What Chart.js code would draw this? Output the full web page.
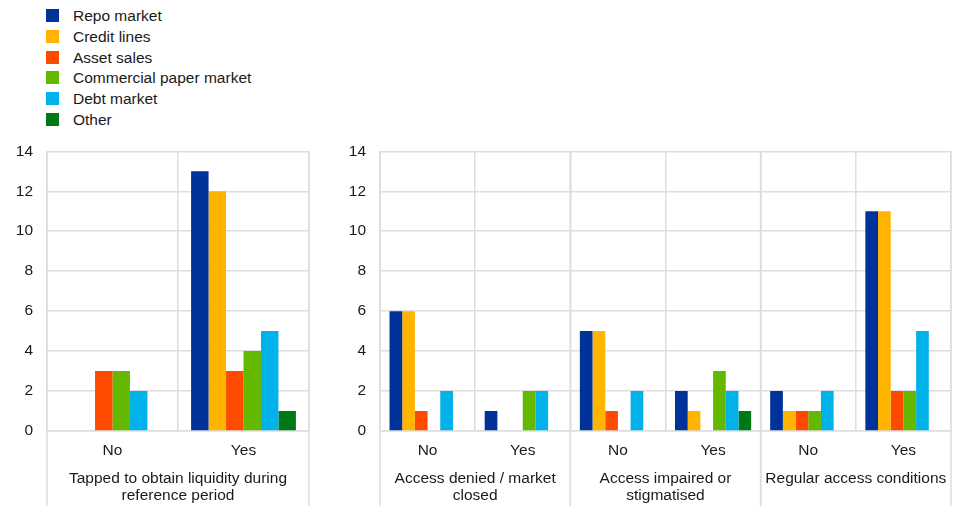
<!DOCTYPE html>
<html>
<head>
  <meta charset="utf-8">
  <title>Market access and liquidity sources</title>
  <script src="https://cdn.jsdelivr.net/npm/chart.js"></script>
  <style>
    body { margin: 0; background: #fff; font-family: "Liberation Sans", Arial, sans-serif; color: #1a1a1a; }
    #legend { position: absolute; left: 46px; top: 6px; font-size: 15.5px; }
    #legend div { height: 20.8px; line-height: 20.8px; white-space: nowrap; }
    #legend span { display: inline-block; width: 13px; height: 13px; margin-right: 14px; vertical-align: -1px; }
    .box { position: absolute; top: 128px; height: 378px; }
  </style>
</head>
<body>

  <div id="legend"></div>
  <div class="box" style="left:0;width:315px"><canvas id="leftChart"></canvas></div>
  <div class="box" style="left:330px;width:627px"><canvas id="rightChart"></canvas></div>

  <script>
    const seriesNames  = ['Repo market', 'Credit lines', 'Asset sales', 'Commercial paper market', 'Debt market', 'Other'];
    const seriesColors = ['#003299', '#ffb400', '#ff4b00', '#65b800', '#00b1ea', '#007816'];

    // left panel
    const leftCategories = ['No', 'Yes'];
    const leftGroups = [
      { from: 0, to: 1, lines: ['Tapped to obtain liquidity during', 'reference period'] }
    ];
    const leftValues = [
      [0, 13],   // Repo market
      [0, 12],   // Credit lines
      [3, 3],    // Asset sales
      [3, 4],    // Commercial paper market
      [2, 5],    // Debt market
      [0, 1]     // Other
    ];

    // right panel
    const rightCategories = ['No', 'Yes', 'No', 'Yes', 'No', 'Yes'];
    const rightGroups = [
      { from: 0, to: 1, lines: ['Access denied / market', 'closed'] },
      { from: 2, to: 3, lines: ['Access impaired or', 'stigmatised'] },
      { from: 4, to: 5, lines: ['Regular access conditions'] }
    ];
    const rightValues = [
      [6, 1, 5, 2, 2, 11],
      [6, 0, 5, 1, 1, 11],
      [1, 0, 1, 0, 1, 2],
      [0, 2, 0, 3, 1, 2],
      [2, 2, 2, 2, 2, 5],
      [0, 0, 0, 1, 0, 0]
    ];

    const yTicks = { min: 0, max: 14, step: 2 };

    const gridColor = '#dedede';
    const textColor = '#1a1a1a';
    const font = { family: '"Liberation Sans", Arial, sans-serif', size: 15.5 };

    document.getElementById('legend').innerHTML = seriesNames.map((n, i) =>
      `<div><span style="background:${seriesColors[i]}"></span>${n}</div>`
    ).join('');

    // draws the second level of the category axis and the group separators
    const groupPlugin = {
      id: 'groupLabels',
      afterDraw(chart, args, opts) {
        const { ctx, chartArea } = chart;
        const x = chart.scales.x;
        const half = x.width / chart.data.labels.length / 2;
        ctx.save();
        ctx.strokeStyle = gridColor;
        ctx.lineWidth = 1.5;
        ctx.fillStyle = textColor;
        ctx.font = `${font.size}px ${font.family}`;
        ctx.textAlign = 'center';
        ctx.textBaseline = 'middle';
        opts.groups.forEach(g => {
          const l = x.getPixelForValue(g.from) - half;
          const r = x.getPixelForValue(g.to) + half;
          [l, r].forEach(px => {
            ctx.beginPath();
            ctx.moveTo(px, chartArea.top);
            ctx.lineTo(px, chart.height);
            ctx.stroke();
          });
          g.lines.forEach((t, i) => ctx.fillText(t, (l + r) / 2, chartArea.bottom + 48 + i * 17));
        });
        ctx.restore();
      }
    };

    function makeChart(id, labels, values, groups, yWidth) {
      return new Chart(document.getElementById(id), {
        type: 'bar',
        data: {
          labels,
          datasets: values.map((v, i) => ({
            label: seriesNames[i],
            data: v,
            backgroundColor: seriesColors[i],
            categoryPercentage: 0.8,
            barPercentage: 1.0
          }))
        },
        plugins: [groupPlugin],
        options: {
          responsive: true,
          maintainAspectRatio: false,
          animation: false,
          layout: { padding: { top: 10, right: 6, left: 0, bottom: 0 } },
          plugins: {
            legend: { display: false },
            tooltip: { enabled: false },
            groupLabels: { groups }
          },
          scales: {
            x: {
              grid: { color: gridColor, lineWidth: 1.5, drawTicks: false, offset: true },
              border: { color: gridColor, width: 1.5 },
              ticks: { color: textColor, font, padding: 10 },
              afterFit: s => { s.height = 75; }
            },
            y: {
              min: yTicks.min,
              max: yTicks.max,
              grid: { color: gridColor, lineWidth: 1.5, drawTicks: false },
              border: { color: gridColor, width: 1.5 },
              ticks: { stepSize: yTicks.step, color: textColor, font, padding: 14 },
              afterFit: s => { s.width = yWidth; }
            }
          }
        }
      });
    }

    makeChart('leftChart', leftCategories, leftValues, leftGroups, 47);
    makeChart('rightChart', rightCategories, rightValues, rightGroups, 50);
  </script>

</body>
</html>
